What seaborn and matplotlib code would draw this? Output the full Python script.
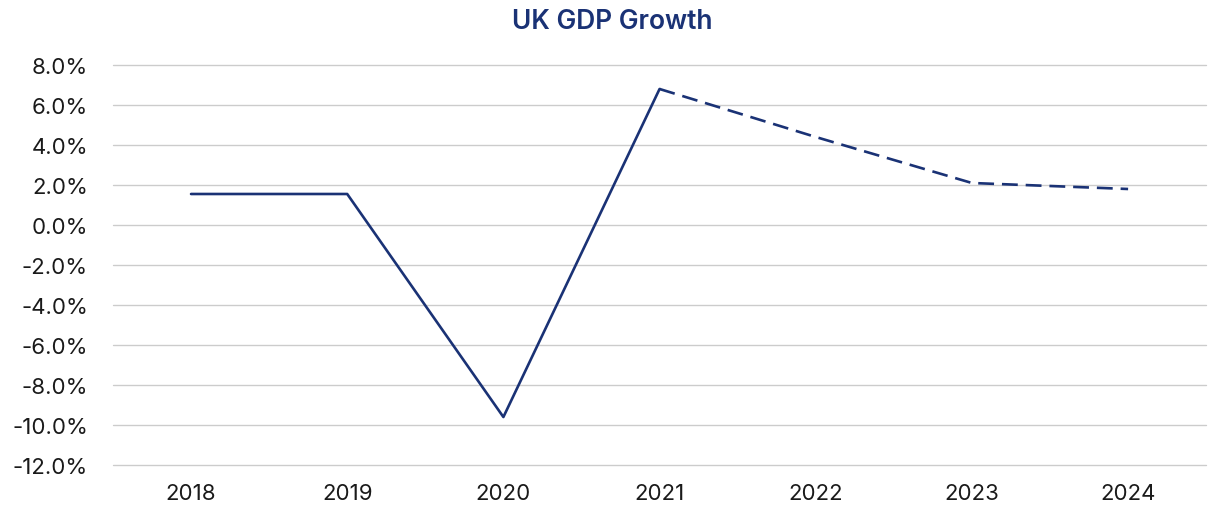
import matplotlib
matplotlib.use("Agg")
import matplotlib.pyplot as plt
import seaborn as sns
import pandas as pd
from matplotlib.ticker import FuncFormatter, MultipleLocator

years = ["2018", "2019", "2020", "2021", "2022", "2023", "2024"]
growth = [1.55, 1.55, -9.6, 6.8, 4.4, 2.1, 1.8]
actual_years = ["2018", "2019", "2020", "2021"]
forecast_years = ["2021", "2022", "2023", "2024"]

sns.set_theme(style="white")
plt.rcParams["font.family"] = ["Inter", "DejaVu Sans"]

navy = "#1A3275"

df = pd.DataFrame({"year": years, "growth": growth})
df["pos"] = range(len(years))
df_act = df[df["year"].isin(actual_years)]
df_fc = df[df["year"].isin(forecast_years)]

fig = plt.figure(figsize=(12.08, 5.06), dpi=100)
ax = fig.add_axes([0.0935, 0.079, 0.905, 0.7906])

sns.lineplot(data=df_act, x="pos", y="growth", ax=ax, color=navy, linewidth=1.9)
sns.lineplot(data=df_fc, x="pos", y="growth", ax=ax, color=navy, linewidth=1.9,
             dashes=False)
ax.lines[-1].set_dashes((6, 3))

ax.set_xlim(-0.5, len(years) - 0.5)
ax.set_ylim(-12, 8)
ax.yaxis.set_major_locator(MultipleLocator(2))
ax.yaxis.set_major_formatter(FuncFormatter(lambda v, p: f"{v:.1f}%"))
ax.set_xticks(range(len(years)))
ax.set_xticklabels(years)
ax.grid(axis="y", color="#CCCCCC", linewidth=1.0)
for gl in ax.get_ygridlines():
    gl.set_clip_on(False)
ax.set_axisbelow(True)
for s in ax.spines.values():
    s.set_visible(False)
ax.tick_params(axis="both", length=0, labelsize=16, colors="#1A1A1A")
ax.tick_params(axis="y", pad=18)
ax.tick_params(axis="x", pad=13)
ax.set_xlabel("")
ax.set_ylabel("")

fig.text(0.507, 0.956, "UK GDP Growth", ha="center", va="center",
         fontsize=19, fontweight="semibold", color=navy)

fig.savefig("out.png", dpi=100)
